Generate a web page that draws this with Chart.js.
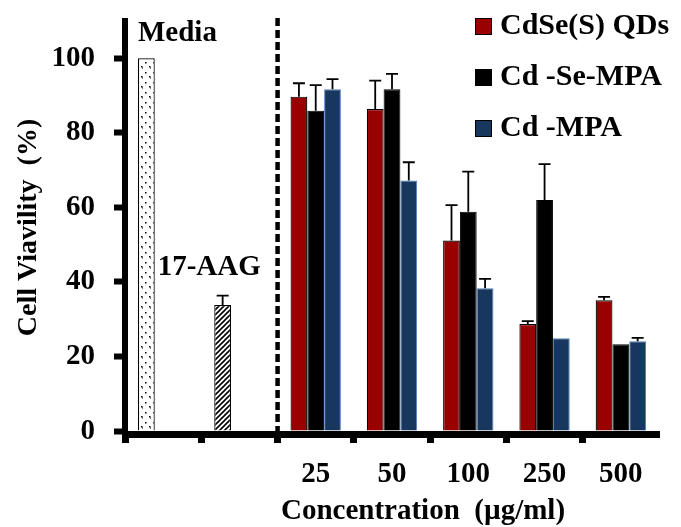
<!DOCTYPE html>
<html>
<head>
<meta charset="utf-8">
<title>Cell Viavility</title>
<style>
  html, body { margin: 0; padding: 0; background: #fff; }
</style>
</head>
<body>
<canvas id="viabilityChart" width="681" height="527"></canvas>
<script src="https://cdn.jsdelivr.net/npm/chart.js@4.4.1/dist/chart.umd.min.js"></script>
<script>
// categories: two controls first, then the QD concentrations (µg/ml)
const categories = ['Media', '17-AAG', '25', '50', '100', '250', '500'];
const seriesNames = ['CdSe(S) QDs', 'Cd -Se-MPA', 'Cd -MPA'];
const yTicks = [0, 20, 40, 60, 80, 100];

const controlValues = [100, 33.8];
const controlErrors = [0, 2.5];

const qdsValues = [89.7, 86.4, 51.1, 28.7, 35.1];
const qdsErrors = [3.6, 7.6, 9.5, 0.8, 0.9];

const seMpaValues = [85.9, 91.7, 58.8, 62.0, 23.3];
const seMpaErrors = [6.9, 4.1, 10.8, 9.6, 0];

const mpaValues = [91.7, 67.2, 38.3, 24.9, 24.1];
const mpaErrors = [2.7, 4.9, 2.5, 0, 0.9];

const red = '#990000';
const black = '#000000';
const blue = '#17375E';
const serif = "'Liberation Serif', 'Times New Roman', serif";

// small fill patterns for the control bars
function dotPattern() {
    const c = document.createElement('canvas');
    c.width = 8; c.height = 10;
    const g = c.getContext('2d');
    g.fillStyle = '#fff';
    g.fillRect(0, 0, 8, 10);
    g.fillStyle = '#000';
    g.fillRect(1, 2, 1.5, 1.5);
    g.fillRect(5, 6, 1.5, 1.5);
    g.fillRect(6, 7.5, 1, 1);
    return g.createPattern(c, 'repeat');
}

function hatchPattern() {
    const c = document.createElement('canvas');
    c.width = 5; c.height = 5;
    const g = c.getContext('2d');
    g.fillStyle = '#fff';
    g.fillRect(0, 0, 5, 5);
    g.strokeStyle = '#000';
    g.lineWidth = 1.6;
    g.beginPath();
    g.moveTo(-1, 6); g.lineTo(6, -1);
    g.moveTo(-1, 1); g.lineTo(1, -1);
    g.moveTo(4, 6); g.lineTo(6, 4);
    g.stroke();
    return g.createPattern(c, 'repeat');
}

const errorSets = [
    [...controlErrors, ...qdsErrors],
    [null, null, ...seMpaErrors],
    [null, null, ...mpaErrors]
];

const legendColors = [red, black, blue];

const extras = {
    id: 'extras',
    afterDatasetsDraw(chart) {
        const { ctx, scales: { y } } = chart;
        ctx.save();
        ctx.strokeStyle = '#000';
        ctx.lineWidth = 1.8;
        errorSets.forEach((errs, i) => {
            const meta = chart.getDatasetMeta(i);
            const values = chart.data.datasets[i].data;
            meta.data.forEach((bar, j) => {
                if (!errs[j]) return;
                const top = y.getPixelForValue(values[j] + errs[j]);
                ctx.beginPath();
                ctx.moveTo(bar.x, bar.y);
                ctx.lineTo(bar.x, top);
                ctx.moveTo(bar.x - 6, top);
                ctx.lineTo(bar.x + 6, top);
                ctx.stroke();
            });
        });
        ctx.restore();
    },
    afterDraw(chart) {
        const { ctx, chartArea, scales: { x, y } } = chart;
        ctx.save();

        // dashed divider between controls and QD concentrations
        const divX = (x.getPixelForValue(1) + x.getPixelForValue(2)) / 2;
        ctx.strokeStyle = '#000';
        ctx.lineWidth = 4.5;
        ctx.setLineDash([8, 4]);
        ctx.beginPath();
        ctx.moveTo(divX, 18);
        ctx.lineTo(divX, chartArea.bottom);
        ctx.stroke();
        ctx.setLineDash([]);

        // control labels
        const bars = chart.getDatasetMeta(0).data;
        ctx.fillStyle = '#000';
        ctx.font = 'bold 29px ' + serif;
        ctx.textAlign = 'left';
        ctx.textBaseline = 'alphabetic';
        ctx.fillText(categories[0], bars[0].x - bars[0].width / 2, bars[0].y - 17);
        const aagTop = y.getPixelForValue(controlValues[1] + controlErrors[1]);
        ctx.fillText(categories[1], bars[1].x - 65, aagTop - 21);

        // legend
        ctx.font = 'bold 30px ' + serif;
        ctx.textBaseline = 'middle';
        seriesNames.forEach((name, i) => {
            const cy = 26.5 + i * 51;
            ctx.fillStyle = legendColors[i];
            ctx.fillRect(475, cy - 8.5, 17, 17);
            ctx.lineWidth = 1;
            ctx.strokeStyle = '#000';
            ctx.strokeRect(475.5, cy - 8, 16, 16);
            ctx.fillStyle = '#000';
            ctx.fillText(name, 500, cy);
        });

        // x axis title
        ctx.textAlign = 'center';
        ctx.font = 'bold 29px ' + serif;
        ctx.fillText('Concentration  (\u00b5g/ml)', 423, 512);
        ctx.restore();
    }
};

const ctx = document.getElementById('viabilityChart').getContext('2d');

new Chart(ctx, {
    type: 'bar',
    data: {
        labels: categories,
        datasets: [{
            label: seriesNames[0],
            data: [...controlValues, ...qdsValues],
            backgroundColor: [dotPattern(), hatchPattern(), red, red, red, red, red],
            borderColor: '#000',
            borderWidth: 1.2
        }, {
            label: seriesNames[1],
            data: [null, null, ...seMpaValues],
            backgroundColor: black,
            borderColor: '#000',
            borderWidth: 1
        }, {
            label: seriesNames[2],
            data: [null, null, ...mpaValues],
            backgroundColor: blue,
            borderColor: '#4F81BD',
            borderWidth: 1
        }]
    },
    options: {
        responsive: false,
        animation: false,
        events: [],
        categoryPercentage: 0.66,
        barPercentage: 1.0,
        layout: { padding: { top: 21, right: 22, left: 0, bottom: 0 } },
        plugins: {
            legend: { display: false },
            tooltip: { enabled: false }
        },
        scales: {
            x: {
                grid: {
                    offset: true,
                    drawOnChartArea: false,
                    tickLength: 9,
                    tickWidth: 7,
                    tickColor: (c) => c.index === undefined ? 'rgba(0,0,0,0)' : '#000'
                },
                border: { color: '#000', width: 7, z: 1 },
                ticks: {
                    color: '#000',
                    font: { family: serif, size: 29, weight: 'bold' },
                    padding: 14,
                    maxRotation: 0,
                    autoSkip: false,
                    callback: (v, i) => i < 2 ? '' : categories[i]
                },
                afterFit: (s) => {
                    s.height = 93;
                    s.paddingLeft = 0;
                    s.paddingRight = 0;
                }
            },
            y: {
                min: -0.8,
                max: 110,
                afterBuildTicks: (s) => {
                    s.ticks = yTicks.map(v => ({ value: v }));
                },
                grid: {
                    drawOnChartArea: false,
                    tickLength: 11,
                    tickWidth: 6,
                    tickColor: '#000'
                },
                border: { color: '#000', width: 6, z: 1 },
                ticks: {
                    color: '#000',
                    font: { family: serif, size: 29, weight: 'bold' },
                    padding: 19
                },
                title: {
                    display: true,
                    text: 'Cell Viavility  (%)',
                    color: '#000',
                    font: { family: serif, size: 28, weight: 'bold' },
                    padding: { top: 12, bottom: 0 }
                },
                afterFit: (s) => {
                    s.width = 125;
                    s.paddingTop = 0;
                    s.paddingBottom = 0;
                }
            }
        }
    },
    plugins: [extras]
});
</script>
</body>
</html>
